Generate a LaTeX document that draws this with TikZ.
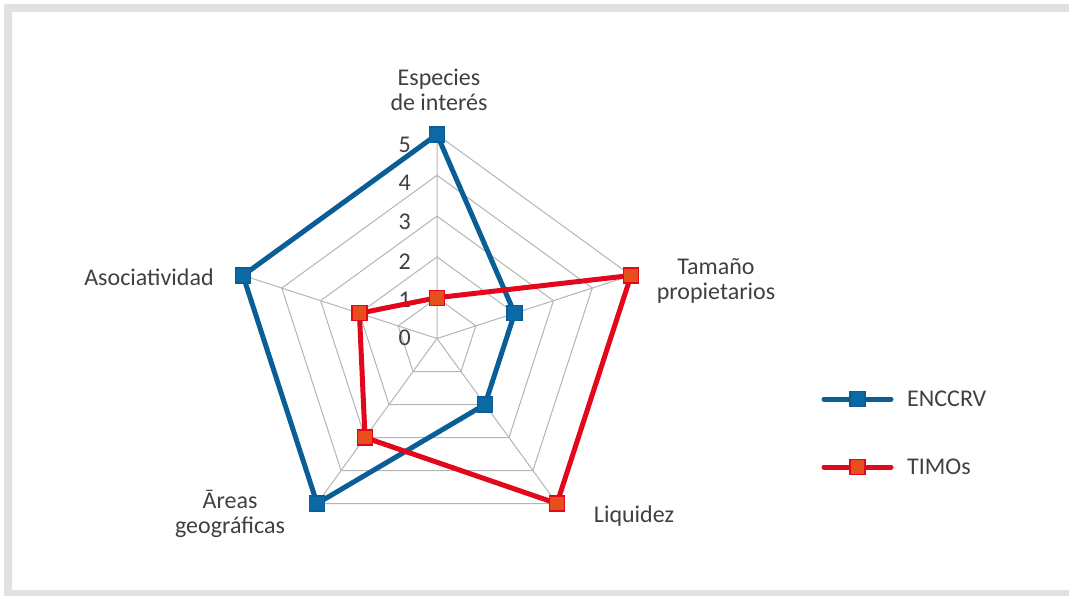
\documentclass[tikz,border=0pt]{standalone}
\usepackage{fontspec}
\setmainfont{Carlito}
\usetikzlibrary{calc,positioning}
\definecolor{encblue}{HTML}{0A5E96}
\definecolor{encfill}{HTML}{0B6AA6}
\definecolor{timored}{HTML}{E2071B}
\definecolor{timofill}{HTML}{E84E1C}
\definecolor{txtgray}{HTML}{404040}
\definecolor{framegray}{HTML}{E1E1E1}
\definecolor{gridgray}{HTML}{B4B4B4}
\tikzset{
  every node/.append style={font=\fontsize{24}{25}\selectfont, text=txtgray},
}

\begin{document}
\begin{tikzpicture}[
  x=1pt, y=1pt,
  grid/.style={draw=gridgray, line width=1pt},
  serieA/.style={draw=encblue, line width=5pt, line join=round},
  serieB/.style={draw=timored, line width=5pt, line join=round},
  mkA/.style={rectangle, fill=encfill, draw=encblue, line width=1.3pt,
              minimum size=15pt, inner sep=0pt},
  mkB/.style={rectangle, fill=timofill, draw=timored, line width=1.3pt,
              minimum size=15pt, inner sep=0pt},
  axlbl/.style={align=center, inner sep=0pt},
  ticklbl/.style={anchor=east, inner sep=0pt}
]
\useasboundingbox (0,0) rectangle (1069,-596);

% ============= Frame =============
\fill[framegray, even odd rule] (4,-4) rectangle (1069,-596) (12,-12) rectangle (1069,-590);

% ============= Grid =============
\coordinate (C) at (437,-338.5);
\begin{scope}[shift={(C)}]
\coordinate (ax1) at (90:204);
\coordinate (ax2) at (18:204);
\coordinate (ax3) at (-54:204);
\coordinate (ax4) at (-126:204);
\coordinate (ax5) at (162:204);
\draw[grid] (90:40.8) -- (18:40.8) -- (-54:40.8) -- (-126:40.8) -- (162:40.8) -- cycle;
\draw[grid] (90:81.6) -- (18:81.6) -- (-54:81.6) -- (-126:81.6) -- (162:81.6) -- cycle;
\draw[grid] (90:122.4) -- (18:122.4) -- (-54:122.4) -- (-126:122.4) -- (162:122.4) -- cycle;
\draw[grid] (90:163.2) -- (18:163.2) -- (-54:163.2) -- (-126:163.2) -- (162:163.2) -- cycle;

% data points
\coordinate (enc1) at (90:204);
\coordinate (enc2) at (18:81.6);
\coordinate (enc3) at (-54:81.6);
\coordinate (enc4) at (-126:204);
\coordinate (enc5) at (162:204);
\coordinate (timo1) at (90:40.8);
\coordinate (timo2) at (18:204);
\coordinate (timo3) at (-54:204);
\coordinate (timo4) at (-126:122.4);
\coordinate (timo5) at (162:81.6);
\end{scope}
\draw[grid] (ax1) -- (ax2) -- (ax3) -- (ax4) -- (ax5) -- cycle;
\draw[grid] (C) -- (ax1) (C) -- (ax2) (C) -- (ax3) (C) -- (ax4) (C) -- (ax5);

% scale labels
\node[ticklbl] (s5) at (411,-144.5) {5};
\node[ticklbl] (s4) at (411,-183) {4};
\node[ticklbl] (s3) at (411,-222) {3};
\node[ticklbl] (s2) at (411,-262) {2};
\node[ticklbl] (s1) at (411,-300) {1};
\node[ticklbl] (s0) at (411,-338) {0};

% ============= Series =============
\draw[serieA] (enc1) -- (enc2) -- (enc3) -- (enc4) -- (enc5) -- cycle;
\node[mkA] (m1) at (enc1) {};
\node[mkA] (m2) at (enc2) {};
\node[mkA] (m3) at (enc3) {};
\node[mkA] (m4) at (enc4) {};
\node[mkA] (m5) at (enc5) {};

\draw[serieB] (timo1) -- (timo2) -- (timo3) -- (timo4) -- (timo5) -- cycle;
\node[mkB] (n1) at (timo1) {};
\node[mkB] (n2) at (timo2) {};
\node[mkB] (n3) at (timo3) {};
\node[mkB] (n4) at (timo4) {};
\node[mkB] (n5) at (timo5) {};

% ============= Axis labels =============
\node[axlbl] (especies) at (439,-90) {Especies\\de interés};
\node[axlbl] (tamano) at (716,-281) {Tamaño\\propietarios};
\node[axlbl] (liquidez) at (634,-516) {Liquidez};
\node[axlbl] (areas) at (230,-514) {Āreas\\geográficas};
\node[axlbl] (asoc) at (149,-277) {Asociatividad};

% ============= Legend =============
\coordinate (la1) at (824,-399);
\coordinate (la2) at (891,-399);
\coordinate (lb1) at (824,-467);
\coordinate (lb2) at (891,-467);
\draw[serieA, line cap=round] (la1) -- (la2);
\node[mkA] (L1) at ($(la1)!0.5!(la2)$) {};
\node[anchor=west, inner sep=0pt, right=16pt of la2] (leg1) {ENCCRV};
\draw[serieB, line cap=round] (lb1) -- (lb2);
\node[mkB] (L2) at ($(lb1)!0.5!(lb2)$) {};
\node[anchor=west, inner sep=0pt, right=16pt of lb2] (leg2) {TIMOs};

\end{tikzpicture}
\end{document}
